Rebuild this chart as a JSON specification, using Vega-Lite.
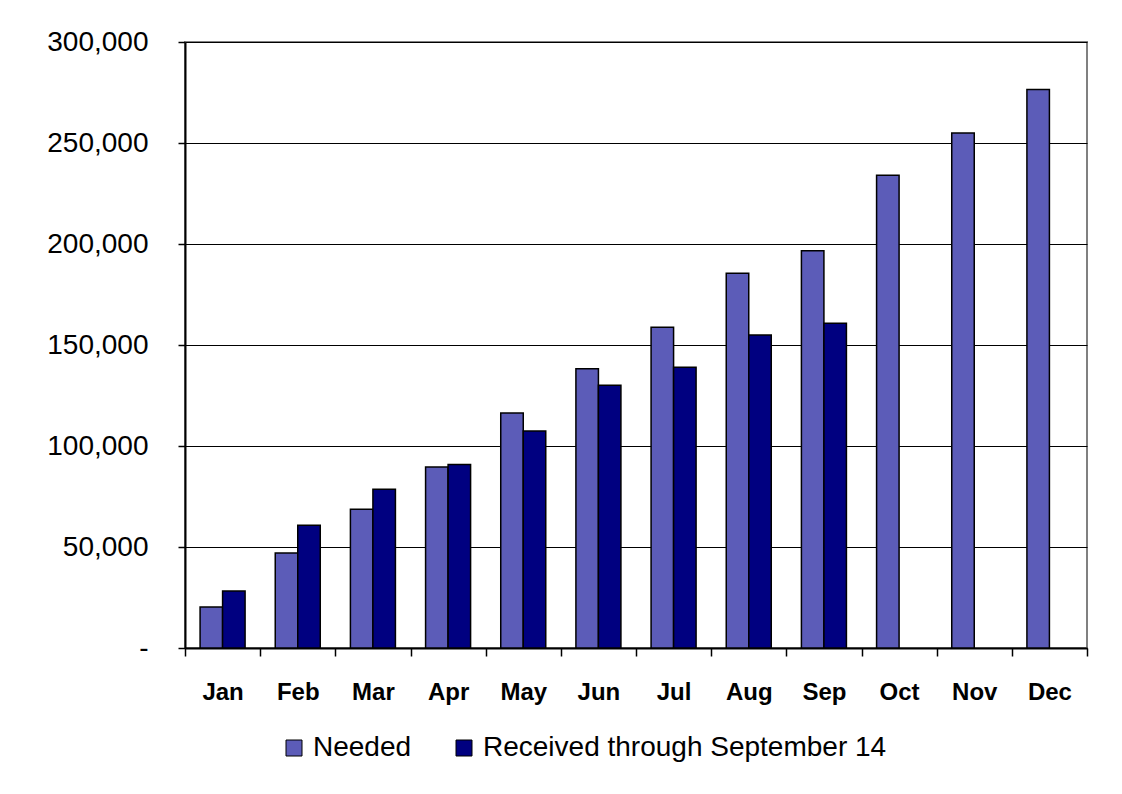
{
  "$schema": "https://vega.github.io/schema/vega-lite/v6.json",
  "autosize": "none",
  "width": 902,
  "height": 606,
  "padding": {"left": 185, "top": 42, "right": 35, "bottom": 146},
  "background": "white",
  "config": {
    "font": "Liberation Sans",
    "view": {"stroke": "#808080", "strokeWidth": 2},
    "axis": {"domainColor": "black", "tickColor": "black", "labelColor": "black"}
  },
  "data": {
    "values": [
      {"month": "Jan", "series": "Needed", "value": 20300},
      {"month": "Jan", "series": "Received through September 14", "value": 28200},
      {"month": "Feb", "series": "Needed", "value": 47000},
      {"month": "Feb", "series": "Received through September 14", "value": 60800},
      {"month": "Mar", "series": "Needed", "value": 68700},
      {"month": "Mar", "series": "Received through September 14", "value": 78600},
      {"month": "Apr", "series": "Needed", "value": 89600},
      {"month": "Apr", "series": "Received through September 14", "value": 90800},
      {"month": "May", "series": "Needed", "value": 116300},
      {"month": "May", "series": "Received through September 14", "value": 107400},
      {"month": "Jun", "series": "Needed", "value": 138200},
      {"month": "Jun", "series": "Received through September 14", "value": 130100},
      {"month": "Jul", "series": "Needed", "value": 158800},
      {"month": "Jul", "series": "Received through September 14", "value": 139000},
      {"month": "Aug", "series": "Needed", "value": 185500},
      {"month": "Aug", "series": "Received through September 14", "value": 155000},
      {"month": "Sep", "series": "Needed", "value": 196600},
      {"month": "Sep", "series": "Received through September 14", "value": 160800},
      {"month": "Oct", "series": "Needed", "value": 234000},
      {"month": "Nov", "series": "Needed", "value": 255000},
      {"month": "Dec", "series": "Needed", "value": 276500}
    ]
  },
  "mark": {"type": "bar", "stroke": "black", "strokeWidth": 1.5},
  "encoding": {
    "x": {
      "field": "month",
      "type": "nominal",
      "sort": ["Jan","Feb","Mar","Apr","May","Jun","Jul","Aug","Sep","Oct","Nov","Dec"],
      "scale": {"paddingInner": 0, "paddingOuter": 0},
      "axis": {
        "title": null,
        "labelAngle": 0,
        "labelFont": "Liberation Sans",
        "labelFontSize": 24,
        "labelFontWeight": "bold",
        "labelPadding": 24,
        "tickBand": "extent",
        "tickSize": 8,
        "tickWidth": 1.5,
        "domainWidth": 2,
        "grid": false
      }
    },
    "xOffset": {
      "field": "series",
      "type": "nominal",
      "sort": ["Needed", "Received through September 14"],
      "scale": {"paddingOuter": 0.67, "paddingInner": 0}
    },
    "y": {
      "field": "value",
      "type": "quantitative",
      "scale": {"domain": [0, 300000], "nice": false},
      "axis": {
        "title": null,
        "values": [0, 50000, 100000, 150000, 200000, 250000, 300000],
        "labelExpr": "datum.value == 0 ? '-' : format(datum.value, ',')",
        "labelFont": "Liberation Sans",
        "labelFontSize": 28,
        "labelPadding": 30,
        "tickSize": 7,
        "tickWidth": 1.5,
        "domainWidth": 2,
        "grid": true,
        "gridColor": "black",
        "gridWidth": 1.2,
        "gridOpacity": 1
      }
    },
    "color": {
      "field": "series",
      "type": "nominal",
      "sort": ["Needed", "Received through September 14"],
      "scale": {"domain": ["Needed", "Received through September 14"], "range": ["#5c5cb8", "#000080"]},
      "legend": {
        "title": null,
        "orient": "none",
        "direction": "horizontal",
        "legendX": 95,
        "legendY": 692,
        "labelFont": "Liberation Sans",
        "labelFontSize": 28,
        "labelColor": "black",
        "labelLimit": 0,
        "labelOffset": 5,
        "symbolType": "square",
        "symbolSize": 256,
        "symbolStrokeColor": "black",
        "symbolStrokeWidth": 1,
        "symbolOpacity": 1,
        "columnPadding": 38
      }
    }
  }
}
